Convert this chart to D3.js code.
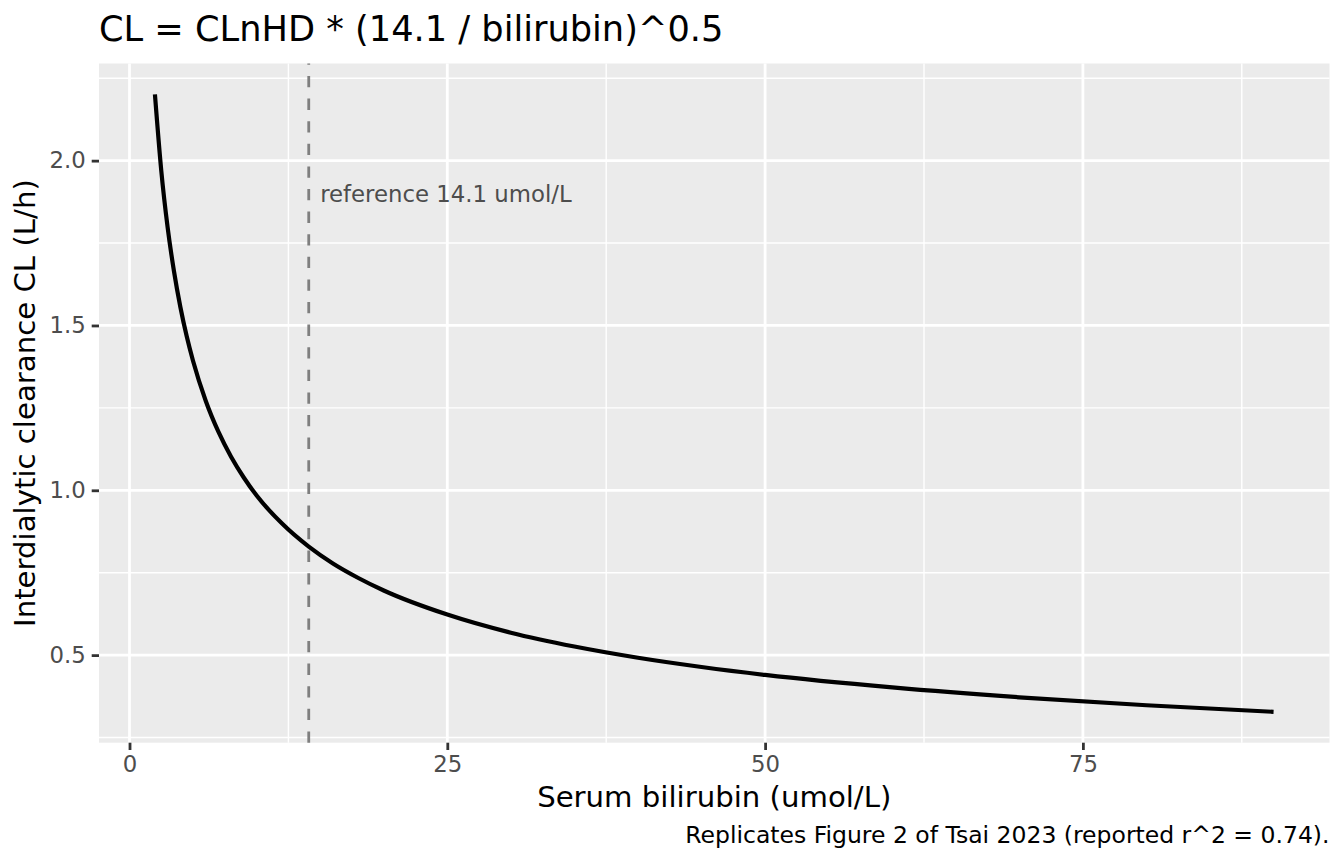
<!doctype html>
<html lang="en">
  <head>
    <meta charset="UTF-8" />
    <title>CL vs bilirubin</title>
    <script src="https://unpkg.com/d3@7.9.0/dist/d3.min.js"></script>
    <style>
      body {
        margin: 0;
        background: #fff;
        font-family: 'DejaVu Sans', sans-serif;
      }
      svg text {
        font-family: 'DejaVu Sans', sans-serif;
      }
    </style>
  </head>
  <body>
    <div id="graph"></div>

    <script>
      // values
      const bilirubin = [
        2, 2.5, 3, 3.5, 4, 4.5, 5, 6, 7, 8, 9, 10, 12, 14.1, 16, 18, 20,
        25, 30, 35, 40, 45, 50, 60, 70, 80, 90,
      ];
      const clearance = [
        2.201, 1.969, 1.797, 1.664, 1.556, 1.467, 1.392, 1.271, 1.177,
        1.101, 1.038, 0.984, 0.899, 0.829, 0.778, 0.734, 0.696, 0.623,
        0.568, 0.526, 0.492, 0.464, 0.44, 0.402, 0.372, 0.348, 0.328,
      ];
      const xTicks = [0, 25, 50, 75];
      const xMinor = [12.5, 37.5, 62.5, 87.5];
      const yTicks = [0.5, 1.0, 1.5, 2.0];
      const yMinor = [0.25, 0.75, 1.25, 1.75, 2.25];
      const refBili = 14.1;
      const refLabel = { x: 15, y: 1.9, text: 'reference 14.1 umol/L' };

      const titleText = 'CL = CLnHD * (14.1 / bilirubin)^0.5';
      const xTitle = 'Serum bilirubin (umol/L)';
      const yTitle = 'Interdialytic clearance CL (L/h)';
      const captionText =
        'Replicates Figure 2 of Tsai 2023 (reported r^2 = 0.74).';

      const W = 1344;
      const H = 864;
      const margin = { top: 63.5, right: 14.5, bottom: 121.3, left: 99 };
      const width = W - margin.left - margin.right;
      const height = H - margin.top - margin.bottom;

      const data = bilirubin.map((b, i) => ({ x: b, y: clearance[i] }));

      // ggplot-like 5% expansion
      function expand(ext) {
        const r = ext[1] - ext[0];
        return [ext[0] - r * 0.05, ext[1] + r * 0.05];
      }

      const x = d3
        .scaleLinear()
        .domain(expand(d3.extent(bilirubin)))
        .range([0, width]);
      const y = d3
        .scaleLinear()
        .domain(expand(d3.extent(clearance)))
        .range([height, 0]);

      const svg = d3
        .select('#graph')
        .append('svg')
        .attr('width', W)
        .attr('height', H);

      const g = svg
        .append('g')
        .attr('transform', `translate(${margin.left},${margin.top})`);

      // panel
      g.append('rect')
        .attr('width', width)
        .attr('height', height)
        .attr('fill', '#ebebeb');

      // minor grid
      g.selectAll('.xminor')
        .data(xMinor.filter((d) => x(d) >= 0 && x(d) <= width))
        .enter()
        .append('line')
        .attr('x1', (d) => x(d))
        .attr('x2', (d) => x(d))
        .attr('y1', 0)
        .attr('y2', height)
        .attr('stroke', '#fff')
        .attr('stroke-width', 1.4);
      g.selectAll('.yminor')
        .data(yMinor.filter((d) => y(d) >= 0 && y(d) <= height))
        .enter()
        .append('line')
        .attr('x1', 0)
        .attr('x2', width)
        .attr('y1', (d) => y(d))
        .attr('y2', (d) => y(d))
        .attr('stroke', '#fff')
        .attr('stroke-width', 1.4);

      // major grid
      g.selectAll('.xmajor')
        .data(xTicks)
        .enter()
        .append('line')
        .attr('x1', (d) => x(d))
        .attr('x2', (d) => x(d))
        .attr('y1', 0)
        .attr('y2', height)
        .attr('stroke', '#fff')
        .attr('stroke-width', 2.8);
      g.selectAll('.ymajor')
        .data(yTicks)
        .enter()
        .append('line')
        .attr('x1', 0)
        .attr('x2', width)
        .attr('y1', (d) => y(d))
        .attr('y2', (d) => y(d))
        .attr('stroke', '#fff')
        .attr('stroke-width', 2.8);

      // reference line, dashes start at the bottom like ggplot
      g.append('line')
        .attr('x1', x(refBili))
        .attr('x2', x(refBili))
        .attr('y1', height)
        .attr('y2', 0)
        .attr('stroke', '#7f7f7f')
        .attr('stroke-width', 2.8)
        .attr('stroke-dasharray', '11.3 11.3');

      g.append('text')
        .attr('x', x(refLabel.x))
        .attr('y', y(refLabel.y))
        .attr('dy', '0.36em')
        .attr('font-size', 22.8)
        .attr('fill', '#4d4d4d')
        .text(refLabel.text);

      // curve
      const line = d3
        .line()
        .x((d) => x(d.x))
        .y((d) => y(d.y))
        .curve(d3.curveMonotoneX);

      g.append('path')
        .datum(data)
        .attr('d', line)
        .attr('fill', 'none')
        .attr('stroke', '#000')
        .attr('stroke-width', 4.2)
        .attr('stroke-linecap', 'butt');

      // axes
      const xAxis = g
        .append('g')
        .attr('transform', `translate(0,${height})`)
        .call(
          d3
            .axisBottom(x)
            .tickValues(xTicks)
            .tickSize(7.3)
            .tickPadding(6)
            .tickFormat(d3.format('d')),
        );
      const yAxis = g.append('g').call(
        d3
          .axisLeft(y)
          .tickValues(yTicks)
          .tickSize(7.3)
          .tickPadding(6)
          .tickFormat(d3.format('.1f')),
      );
      [xAxis, yAxis].forEach((a) => {
        a.select('.domain').remove();
        a.selectAll('.tick line')
          .attr('stroke', '#333')
          .attr('stroke-width', 2.8);
        a.selectAll('.tick text')
          .attr('fill', '#4d4d4d')
          .attr('font-size', 22.8);
      });

      // titles
      svg
        .append('text')
        .attr('x', margin.left)
        .attr('y', 41)
        .attr('font-size', 35.2)
        .attr('fill', '#000')
        .text(titleText);

      svg
        .append('text')
        .attr('x', margin.left + width / 2)
        .attr('y', 807)
        .attr('text-anchor', 'middle')
        .attr('font-size', 29.2)
        .attr('fill', '#000')
        .text(xTitle);

      svg
        .append('text')
        .attr(
          'transform',
          `translate(35,${margin.top + height / 2}) rotate(-90)`,
        )
        .attr('text-anchor', 'middle')
        .attr('font-size', 29.2)
        .attr('fill', '#000')
        .text(yTitle);

      svg
        .append('text')
        .attr('x', W - margin.right)
        .attr('y', 843)
        .attr('text-anchor', 'end')
        .attr('font-size', 23.5)
        .attr('fill', '#000')
        .text(captionText);
    </script>
  </body>
</html>
